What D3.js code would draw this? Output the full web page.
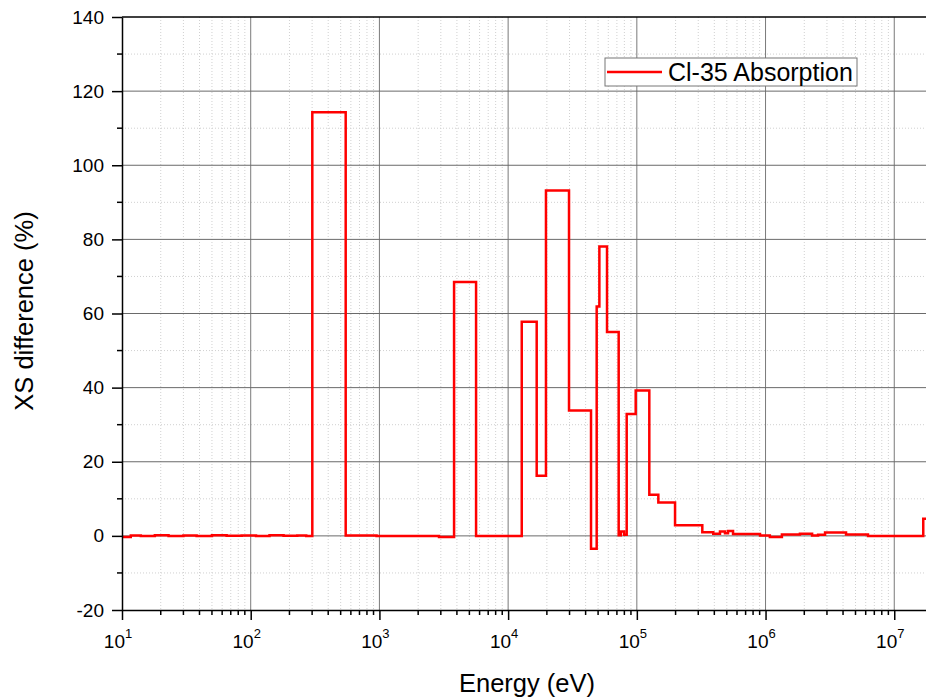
<!DOCTYPE html>
<html>
<head>
<meta charset="utf-8">
<script src="https://cdn.jsdelivr.net/npm/d3@7"></script>
<style>
  body { margin: 0; background: #fff; }
  svg { font-family: "Liberation Sans", Arial, sans-serif; }
</style>
</head>
<body>
<svg id="chart" width="926" height="698"></svg>
<script>
// step start energies (eV) and the value held until the next energy
var energies = [10, 11.7, 14, 18, 23, 30, 38, 50, 65, 85, 110, 140, 180, 230, 270,
  301, 547, 950, 2904, 3802, 5636, 12760, 16670, 19680, 29720, 44060, 48760, 51160,
  58660, 72270, 75000, 79500, 83410, 97960, 125000, 146900, 198100, 322600, 392600,
  442600, 484000, 511000, 559000, 906000, 1.08e6, 1.34e6, 1.85e6, 2.30e6, 2.56e6,
  2.90e6, 4.22e6, 6.25e6, 1.68e7, 2e7]
var xsDiff = [-0.3, 0.1, 0.0, 0.15, 0.0, 0.1, 0.0, 0.15, 0.05, 0.1, 0.0, 0.15, 0.05, 0.1, 0.0,
  114.3, 0.1, 0.0, -0.3, 68.5, 0.0, 57.8, 16.2, 93.2, 33.8, -3.5, 61.9, 78.1,
  55.0, 0.2, 1.2, 0.3, 32.9, 39.2, 11.1, 9.0, 2.9, 1.0, 0.6,
  1.2, 0.7, 1.3, 0.5, 0.1, -0.3, 0.4, 0.6, 0.1, 0.3,
  0.9, 0.4, 0.0, 4.6, 4.6]
var yTicks = [-20, 0, 20, 40, 60, 80, 100, 120, 140]
var decades = [1, 2, 3, 4, 5, 6, 7]
var seriesName = "Cl-35 Absorption"

var svg = d3.select("#chart")

var x = d3.scaleLog().domain([10, 2e7]).range([122, 933])
var y = d3.scaleLinear().domain([-20, 140]).range([610, 17])

var data = energies.map((e, i) => ({e: e, v: xsDiff[i]}))

// minor grid positions
var minorX = []
for (var d = 1; d <= 7; d++) {
  for (var m = 2; m <= 9; m++) {
    var val = m * Math.pow(10, d)
    if (val < 2e7) minorX.push(val)
  }
}
var minorY = d3.range(-10, 140, 20)

var grid = svg.append("g")
grid.selectAll("line.mx")
  .data(minorX).enter().append("line")
  .attr("x1", d => x(d)).attr("x2", d => x(d))
  .attr("y1", y(140)).attr("y2", y(-20))
  .style("stroke", "#d0d0d0").style("stroke-dasharray", "1,2")
grid.selectAll("line.my")
  .data(minorY).enter().append("line")
  .attr("x1", x(10)).attr("x2", 933)
  .attr("y1", d => y(d)).attr("y2", d => y(d))
  .style("stroke", "#d0d0d0").style("stroke-dasharray", "1,2")
grid.selectAll("line.gx")
  .data(decades.slice(1)).enter().append("line")
  .attr("x1", d => x(Math.pow(10, d))).attr("x2", d => x(Math.pow(10, d)))
  .attr("y1", y(140)).attr("y2", y(-20))
  .style("stroke", "#7a7a7a")
grid.selectAll("line.gy")
  .data(yTicks.slice(1, -1)).enter().append("line")
  .attr("x1", x(10)).attr("x2", 933)
  .attr("y1", d => y(d)).attr("y2", d => y(d))
  .style("stroke", "#6a6a6a")

// top frame
svg.append("line")
  .attr("x1", x(10)).attr("x2", 933)
  .attr("y1", y(140)).attr("y2", y(140))
  .style("stroke", "#000").style("stroke-width", 1.5)

// data line
var line = d3.line()
  .x(d => x(d.e))
  .y(d => y(d.v))
  .curve(d3.curveStepAfter)

svg.append("path")
  .datum(data)
  .attr("d", line)
  .style("fill", "none")
  .style("stroke", "#ff0000")
  .style("stroke-width", 2.5)

// x axis
var xAxis = svg.append("g")
  .attr("transform", "translate(0," + y(-20) + ")")
  .call(d3.axisBottom(x).tickValues(decades.map(d => Math.pow(10, d))).tickFormat("").tickSize(10).tickSizeOuter(0))
xAxis.selectAll("line").style("stroke-width", 1.5)
xAxis.select(".domain").style("stroke-width", 1.5)
xAxis.selectAll("line.minor")
  .data(minorX).enter().append("line")
  .attr("x1", d => x(d)).attr("x2", d => x(d))
  .attr("y1", 0).attr("y2", 5)
  .style("stroke", "#000").style("stroke-width", 1.5)

var xl = svg.append("g").selectAll("text")
  .data(decades).enter().append("text")
  .attr("x", d => x(Math.pow(10, d)) - 4)
  .attr("y", 648)
  .style("font-size", "19px")
  .style("text-anchor", "middle")
xl.append("tspan").text("10")
xl.append("tspan").attr("dy", -10).style("font-size", "13px").text(d => d)

// y axis
var yAxis = svg.append("g")
  .attr("transform", "translate(" + x(10) + ",0)")
  .call(d3.axisLeft(y).tickValues(yTicks).tickFormat(d => String(d)).tickSize(10).tickSizeOuter(0).tickPadding(8))
yAxis.selectAll("line").style("stroke-width", 1.5)
yAxis.select(".domain").style("stroke-width", 1.5)
yAxis.selectAll("text").style("font-size", "19px").style("font-family", "Liberation Sans, Arial, sans-serif")
yAxis.selectAll("line.minor")
  .data(minorY).enter().append("line")
  .attr("x1", -5).attr("x2", 0)
  .attr("y1", d => y(d)).attr("y2", d => y(d))
  .style("stroke", "#000").style("stroke-width", 1.5)

// axis titles
svg.append("text")
  .attr("x", 527).attr("y", 692)
  .style("text-anchor", "middle")
  .style("font-size", "25.5px")
  .text("Energy (eV)")
svg.append("text")
  .attr("transform", "translate(33,311) rotate(-90)")
  .style("text-anchor", "middle")
  .style("font-size", "25.5px")
  .text("XS difference (%)")

// legend
var lg = svg.append("g")
lg.append("rect")
  .attr("x", 605).attr("y", 58).attr("width", 252).attr("height", 28)
  .style("fill", "#fff").style("stroke", "#777")
lg.append("line")
  .attr("x1", 607).attr("x2", 662).attr("y1", 72).attr("y2", 72)
  .style("stroke", "#ff0000").style("stroke-width", 2.5)
lg.append("text")
  .attr("x", 668).attr("y", 81)
  .style("font-size", "25px")
  .text(seriesName)
</script>
</body>
</html>
